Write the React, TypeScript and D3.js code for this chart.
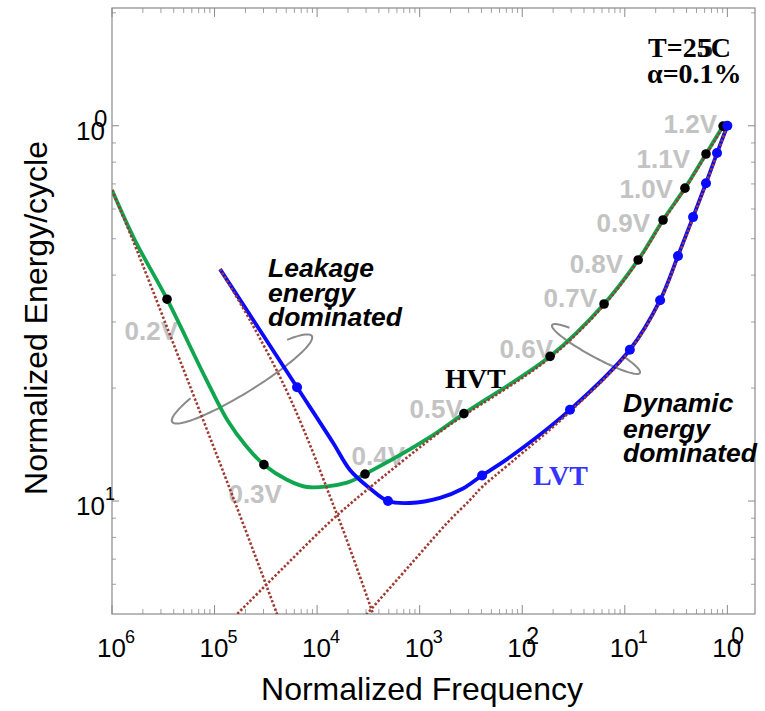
import React from "react";
import * as d3 from "d3";

// ---------- data ----------
const voltages = ["0.2V", "0.3V", "0.4V", "0.5V", "0.6V", "0.7V", "0.8V", "0.9V", "1.0V", "1.1V", "1.2V"];

// HVT operating points (normalized frequency, normalized energy/cycle)
const hvtDotFreq = [3.44e-6, 3.03e-5, 2.93e-4, 2.7e-3, 0.0187, 0.0628, 0.135, 0.236, 0.386, 0.619, 0.908];
const hvtDotEnergy = [0.345, 0.125, 0.118, 0.171, 0.243, 0.335, 0.439, 0.561, 0.682, 0.841, 0.998];
// extra HVT curve samples between operating points
const hvtExtraFreq = [1e-6, 1.67e-6, 8.07e-6, 1.35e-5, 2.03e-5, 5.08e-5, 7.98e-5, 1.96e-4, 1.26e-3];
const hvtExtraEnergy = [0.674, 0.496, 0.214, 0.1633, 0.1401, 0.114, 0.109, 0.112, 0.148];

// LVT operating points
const lvtDotFreq = [6.37e-5, 4.91e-4, 4.06e-3, 0.0292, 0.112, 0.221, 0.33, 0.463, 0.619, 0.793, 1.0];
const lvtDotEnergy = [0.201, 0.1, 0.117, 0.175, 0.253, 0.343, 0.45, 0.571, 0.703, 0.846, 1.0];
const lvtExtraFreq = [1.13e-5, 1.43e-4, 2.09e-4, 3.28e-4, 8.05e-4, 1.58e-3, 2.65e-3, 7.6e-3];
const lvtExtraEnergy = [0.415, 0.143, 0.121, 0.108, 0.0988, 0.102, 0.108, 0.131];

// leakage components (dotted)
const hvtLeakFreq = [1e-6, 1.6e-6, 3.94e-6, 1.48e-5, 4.06e-5, 5.45e-5];
const hvtLeakEnergy = [0.674, 0.495, 0.264, 0.104, 0.05, 0.04];
const lvtLeakFreq = [1.13e-5, 2.22e-5, 4.86e-5, 8.53e-5, 1.34e-4, 1.87e-4, 3.51e-4, 4.1e-4];
const lvtLeakEnergy = [0.415, 0.303, 0.201, 0.141, 0.1026, 0.0811, 0.05, 0.044];

// dynamic components (dotted)
const hvtDynFreq = [1.26e-5, 1.66e-5, 4.86e-5, 1.4e-4, 2.93e-4, 1.69e-3, 2.7e-3, 0.0187, 0.0628, 0.135, 0.236, 0.386, 0.619, 0.908];
const hvtDynEnergy = [0.0464, 0.05, 0.0671, 0.0891, 0.106, 0.155, 0.169, 0.241, 0.333, 0.437, 0.557, 0.679, 0.836, 0.993];
const lvtDynFreq = [2.34e-4, 3.07e-4, 8.05e-4, 1.89e-3, 3.1e-3, 4.06e-3, 7.6e-3, 0.0292, 0.112, 0.221, 0.33, 0.463, 0.619, 0.793, 0.993];
const lvtDynEnergy = [0.0458, 0.05, 0.0675, 0.0879, 0.1007, 0.109, 0.126, 0.173, 0.252, 0.341, 0.447, 0.568, 0.7, 0.841, 0.998];

const xTickExponents = [-6, -5, -4, -3, -2, -1, 0];
const yTickExponents = [-1, 0];

// ---------- layout ----------
const W = 765, H = 711;
const L = 112, R = 755, T = 8, B = 614;
const x = d3.scaleLog().domain([1e-6, 1.86]).range([L, R]);
const y = d3.scaleLog().domain([0.05, 2.06]).range([B, T]);

// voltage label offsets relative to HVT dots (text-anchor end, baseline)
const labelOffsets: [number, number][] = [
  [11, 41], [18, 38], [40, -9], [-1, 4], [3, 2], [-7, 3], [-15, 13], [-13, 12], [-12, 10], [-16, 14], [-6, 7],
];

const GREEN = "#10a64f";
const BLUE = "#0a0aff";
const BROWN = "#9e3a31";
const GRAY = "#8a8a8a";
const LABEL_GRAY = "#c3c3c3";
const SANS = "'Liberation Sans', Arial, sans-serif";
const SERIF = "'Liberation Serif', 'Times New Roman', serif";

type P = [number, number];
const zip = (f: number[], e: number[]): P[] => f.map((v, i) => [v, e[i]] as P);
const merged = (a: P[], b: P[]) => [...a, ...b].sort((p, q) => p[0] - q[0]);

const line = d3
  .line<P>()
  .x((d) => x(d[0]))
  .y((d) => y(d[1]))
  .curve(d3.curveCatmullRom.alpha(0.5));

function ringPath(cx: number, cy: number, a: number, b: number, rotDeg: number, t1: number, t2: number) {
  const th = (rotDeg * Math.PI) / 180;
  const ux = Math.cos(th), uy = Math.sin(th);
  const nx = -Math.sin(th), ny = Math.cos(th);
  const pts: P[] = [];
  const n = 80;
  for (let i = 0; i <= n; i++) {
    const t = ((t1 + ((t2 - t1) * i) / n) * Math.PI) / 180;
    const c = Math.cos(t), s = Math.sin(t);
    pts.push([cx + a * c * ux + b * s * nx, cy + a * c * uy + b * s * ny]);
  }
  return d3.line<P>()(pts) as string;
}

function xMinorTicks(): number[] {
  const out: number[] = [];
  for (let e = -6; e <= 0; e++) {
    for (let k = 2; k <= 9; k++) {
      const v = k * Math.pow(10, e);
      if (v < 1.86) out.push(v);
    }
  }
  return out;
}
function yMinorTicks(): number[] {
  const out: number[] = [];
  for (let k = 6; k <= 9; k++) out.push(k / 100);
  for (let k = 2; k <= 9; k++) out.push(k / 10);
  out.push(2);
  return out;
}

export default function App() {
  const hvtCurve = merged(zip(hvtDotFreq, hvtDotEnergy), zip(hvtExtraFreq, hvtExtraEnergy));
  const lvtCurve = merged(zip(lvtDotFreq, lvtDotEnergy), zip(lvtExtraFreq, lvtExtraEnergy));
  const dotted = [
    zip(hvtLeakFreq, hvtLeakEnergy),
    zip(lvtLeakFreq, lvtLeakEnergy),
    zip(hvtDynFreq, hvtDynEnergy),
    zip(lvtDynFreq, lvtDynEnergy),
  ];
  const xMajor = xTickExponents.map((e) => Math.pow(10, e));
  const yMajor = yTickExponents.map((e) => Math.pow(10, e));

  return (
    <svg
      width={W}
      height={H}
      style={{ position: "absolute", left: 0, top: 0, background: "#fff" }}
      xmlns="http://www.w3.org/2000/svg"
    >
      <defs>
        <clipPath id="plotclip">
          <rect x={L} y={T} width={R - L} height={B - T} />
        </clipPath>
      </defs>

      {/* axis box */}
      <rect x={L} y={T} width={R - L} height={B - T} fill="none" stroke={GRAY} strokeWidth={1.2} />

      {/* x ticks */}
      {xMajor.map((v, i) => (
        <g key={"xM" + i} stroke={GRAY} strokeWidth={1}>
          <line x1={x(v)} x2={x(v)} y1={B} y2={B - 9} />
          <line x1={x(v)} x2={x(v)} y1={T} y2={T + 9} />
        </g>
      ))}
      {xMinorTicks().map((v, i) => (
        <g key={"xm" + i} stroke={GRAY} strokeWidth={0.8}>
          <line x1={x(v)} x2={x(v)} y1={B} y2={B - 5} />
          <line x1={x(v)} x2={x(v)} y1={T} y2={T + 5} />
        </g>
      ))}
      {/* y ticks */}
      {yMajor.map((v, i) => (
        <g key={"yM" + i} stroke={GRAY} strokeWidth={1}>
          <line x1={L} x2={L + 7} y1={y(v)} y2={y(v)} />
          <line x1={R} x2={R - 7} y1={y(v)} y2={y(v)} />
        </g>
      ))}
      {yMinorTicks().map((v, i) => (
        <g key={"ym" + i} stroke={GRAY} strokeWidth={0.8}>
          <line x1={L} x2={L + 4} y1={y(v)} y2={y(v)} />
          <line x1={R} x2={R - 4} y1={y(v)} y2={y(v)} />
        </g>
      ))}

      {/* x tick labels */}
      {xTickExponents.map((e, i) => {
        const px = x(Math.pow(10, e));
        const big = e === 0 || e === -2;
        return (
          <g key={"xl" + i} fontFamily={SANS} fill="#000">
            <text x={px - 15} y={657} fontSize={26}>
              10
            </text>
            <text x={big ? px + 4 : px + 13} y={big ? 644 : 643} fontSize={big ? 23 : 18}>
              {String(Math.abs(e))}
            </text>
          </g>
        );
      })}
      {/* y tick labels */}
      {yTickExponents.map((e, i) => {
        const py = y(Math.pow(10, e));
        const big = e === 0;
        return (
          <g key={"yl" + i} fontFamily={SANS} fill="#000">
            <text x={105} y={py + 14} fontSize={26} textAnchor="end">
              10
            </text>
            <text x={big ? 94 : 105} y={big ? py + 1 : py - 1} fontSize={big ? 24 : 18}>
              {String(Math.abs(e))}
            </text>
          </g>
        );
      })}

      {/* axis titles */}
      <text x={422} y={700} fontFamily={SANS} fontSize={32} textAnchor="middle" fill="#000">
        Normalized Frequency
      </text>
      <text
        transform={`translate(47,318) rotate(-90)`}
        fontFamily={SANS}
        fontSize={32}
        textAnchor="middle"
        fill="#000"
      >
        Normalized Energy/cycle
      </text>

      {/* voltage labels */}
      {voltages.map((v, i) => (
        <text
          key={"v" + i}
          x={x(hvtDotFreq[i]) + labelOffsets[i][0]}
          y={y(hvtDotEnergy[i]) + labelOffsets[i][1]}
          fontFamily={SANS}
          fontWeight="bold"
          fontSize={26}
          fill={LABEL_GRAY}
          textAnchor="end"
        >
          {v}
        </text>
      ))}

      {/* rings */}
      <path d={ringPath(242, 379, 82, 14, -31.6, -44, 229)} fill="none" stroke={GRAY} strokeWidth={2} />
      <path d={ringPath(596, 349, 50, 8, 28.6, -58, 228)} fill="none" stroke={GRAY} strokeWidth={2} />

      <g clipPath="url(#plotclip)">
        <path d={line(hvtCurve) as string} fill="none" stroke={GREEN} strokeWidth={3.8} />
        <path d={line(lvtCurve) as string} fill="none" stroke={BLUE} strokeWidth={3.8} />
        {dotted.map((d, i) => (
          <path
            key={"d" + i}
            d={line(d) as string}
            fill="none"
            stroke={BROWN}
            strokeWidth={2.6}
            strokeDasharray="2.4 2"
          />
        ))}
      </g>

      {/* dots */}
      {hvtDotFreq.map((f, i) => (
        <circle key={"hd" + i} cx={x(f)} cy={y(hvtDotEnergy[i])} r={4.8} fill="#000" />
      ))}
      {lvtDotFreq.map((f, i) => (
        <circle key={"ld" + i} cx={x(f)} cy={y(lvtDotEnergy[i])} r={5} fill={BLUE} />
      ))}

      {/* annotations */}
      <g fontFamily={SANS} fontWeight="bold" fontStyle="italic" fontSize={26.5} fill="#000">
        <text x={268} y={277}>Leakage</text>
        <text x={268} y={302}>energy</text>
        <text x={268} y={326}>dominated</text>
        <text x={623} y={412}>Dynamic</text>
        <text x={623} y={438}>energy</text>
        <text x={623} y={462}>dominated</text>
      </g>
      <text x={445} y={388} fontFamily={SERIF} fontWeight="bold" fontSize={28} fill="#000">
        HVT
      </text>
      <text x={533} y={485} fontFamily={SERIF} fontWeight="bold" fontSize={28} fill="#3535ff">
        LVT
      </text>
      <g fontFamily={SERIF} fontWeight="bold" fill="#000">
        <text x={648} y={57} fontSize={28}>T=25C</text>
        <text x={699} y={57} fontSize={28} opacity={0.85}>5</text>
        <text x={647} y={83} fontSize={28}>α=0.1%</text>
      </g>
    </svg>
  );
}
